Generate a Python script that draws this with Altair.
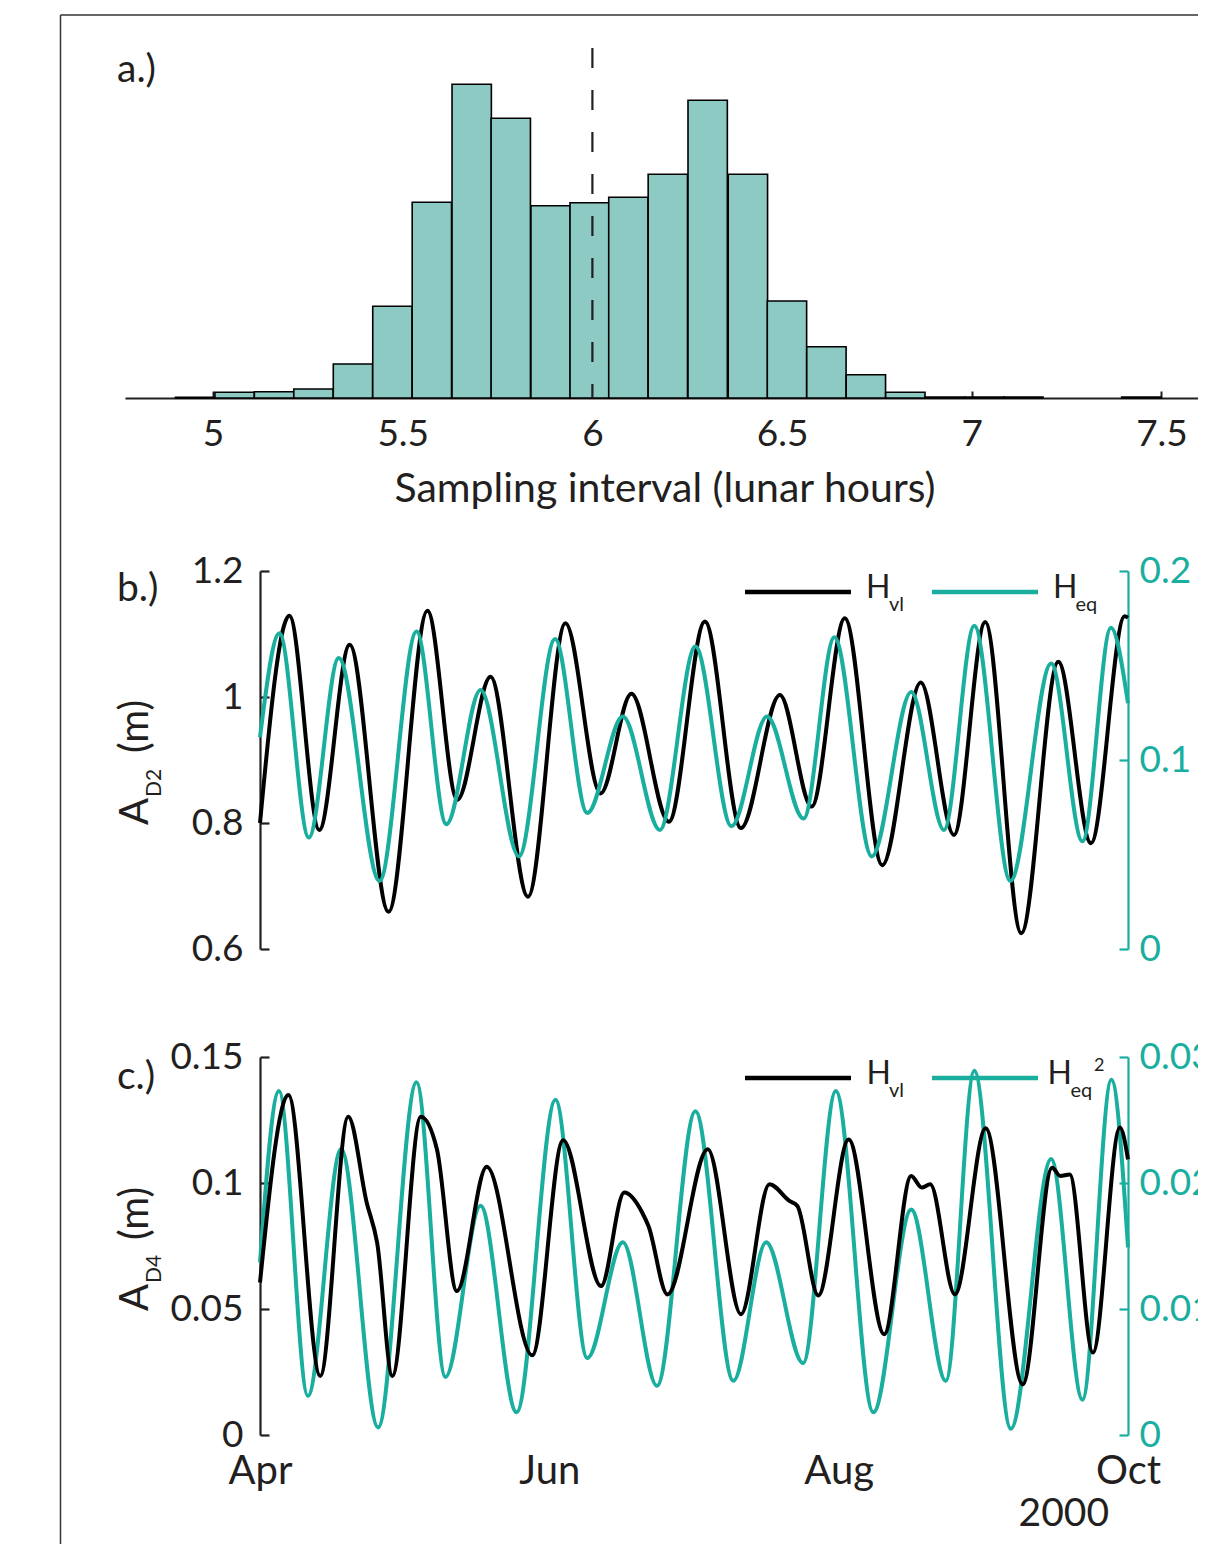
import altair as alt
import pandas as pd

# ---------------- data ----------------
# a.) histogram of sampling interval (lunar hours)
bin_left = [4.901, 5.005, 5.109, 5.213, 5.317, 5.421, 5.525, 5.630, 5.733, 5.838,
            5.941, 6.043, 6.147, 6.252, 6.358, 6.461, 6.565, 6.669, 6.773, 6.877,
            6.981, 7.084, 7.395]
bin_count = [0.8, 5.7, 6.3, 9, 34, 91.7, 195.7, 313.7, 279.7, 192.3,
             195.3, 200.7, 223.7, 297.7, 223.7, 97, 51.3, 23.3, 5.7, 1,
             1, 1, 1]
BIN_W = 0.1037
hist_ticks = [5, 5.5, 6, 6.5, 7, 7.5]
median_interval = [6.0]

# b.) A_D2 (m): days after 1 Apr 2000
b_black_day = [0, 6.2, 12.5, 18.9, 27.1, 35.3, 41.6, 48.6, 56.5, 64.4, 71.8, 78.3, 86.2,
               93.8, 101.4, 109.6, 116.3, 123.3, 131.2, 139.3, 146.3, 152.9, 160.5,
               168.3, 175.2, 182.3, 183]
b_black_val = [0.80, 1.129, 0.789, 1.083, 0.659, 1.137, 0.837, 1.032, 0.683, 1.117, 0.847,
               1.005, 0.802, 1.120, 0.792, 1.003, 0.826, 1.125, 0.733, 1.023, 0.781,
               1.119, 0.625, 1.056, 0.768, 1.128, 1.126]
b_teal_day = [0, 4.1, 10.3, 16.6, 25.2, 33.0, 39.3, 46.5, 54.6, 62.2, 69.0, 76.5, 84.3,
              91.8, 99.4, 106.9, 114.6, 121.1, 129.0, 137.3, 144.2, 150.6, 158.2, 166.8,
              173.4, 179.4, 183]
b_teal_val = [0.112, 0.167, 0.059, 0.154, 0.036, 0.168, 0.066, 0.137, 0.049, 0.164, 0.072,
              0.123, 0.063, 0.160, 0.065, 0.123, 0.069, 0.165, 0.049, 0.136, 0.063, 0.171,
              0.036, 0.151, 0.057, 0.170, 0.130]
b_left_ticks = [0.6, 0.8, 1, 1.2]
b_right_ticks = [0, 0.1, 0.2]

# c.) A_D4 (m)
c_black_day = [0, 6.0, 12.7, 18.6, 22.5, 24.7, 27.9, 33.9, 37.3, 41.5, 47.8, 57.4, 63.9,
               71.9, 76.8, 80.6, 81.9, 85.9, 94.4, 101.4, 107.4, 111.6, 113.3, 117.7,
               124.1, 131.6, 137.3, 139.5, 141.3, 146.5, 153.0, 160.8, 167.0, 168.7,
               170.7, 175.6, 181.3, 183]
c_black_val = [0.0605, 0.1349, 0.0234, 0.1263, 0.0922, 0.0763, 0.0234, 0.1263, 0.1134,
               0.0571, 0.1064, 0.0316, 0.117, 0.0591, 0.0962, 0.0882, 0.0829, 0.0558,
               0.1134, 0.0479, 0.0995, 0.0929, 0.0909, 0.0554, 0.1173, 0.040, 0.1028,
               0.0982, 0.0995, 0.0558, 0.1217, 0.0201, 0.1061, 0.1028, 0.1034, 0.0327,
               0.122, 0.1094]
c_teal_day = [0, 4.0, 10.1, 17.1, 24.9, 33.0, 39.1, 46.5, 54.1, 62.3, 69.0, 76.5, 83.7,
              91.8, 99.8, 106.7, 114.5, 121.4, 129.3, 137.3, 144.6, 150.6, 158.3, 166.8,
              173.4, 179.5, 183]
c_teal_val = [0.0137, 0.0273, 0.0031, 0.0227, 0.0006, 0.0280, 0.0046, 0.0182, 0.0018,
              0.0266, 0.0061, 0.0153, 0.0039, 0.0257, 0.0043, 0.0153, 0.0057, 0.0273,
              0.0018, 0.0179, 0.0043, 0.0289, 0.0005, 0.0219, 0.0028, 0.0282, 0.0149]
c_left_ticks = [0, 0.05, 0.1, 0.15]
c_right_ticks = [0, 0.01, 0.02, 0.03]

month_ticks = [(2000, 4), (2000, 6), (2000, 8), (2000, 10)]

# ---------------- layout / style ----------------
W, H = 1190, 1536
TEAL = "#1AAE9F"
HFILL = "#8CCAC3"
INK = "#231F20"
FONT = "Lato"
TICKF = 37
NUMFMT = ".3~g"


def P(v):
    """page pixel -> view pixel (page has an 8px margin)"""
    return v - 8


one = pd.DataFrame({"k": [0]})
T0 = pd.Timestamp("2000-04-01")


def tdf(days, vals):
    return pd.DataFrame({
        "t": [(T0 + pd.Timedelta(days=d)).strftime("%Y-%m-%dT%H:%M:%S") for d in days],
        "v": vals,
    })


def txt(s, x, y, size, color=INK, angle=0, align="left", baseline="alphabetic"):
    return alt.Chart(one).mark_text(
        text=s, font=FONT, fontSize=size, color=color, angle=angle,
        align=align, baseline=baseline,
    ).encode(x=alt.value(P(x)), y=alt.value(P(y)))


def rule(x1, y1, x2, y2, color, width, dash=None):
    kw = dict(color=color, strokeWidth=width)
    if dash:
        kw["strokeDash"] = dash
    return alt.Chart(one).mark_rule(**kw).encode(
        x=alt.value(P(x1)), y=alt.value(P(y1)), x2=alt.value(P(x2)), y2=alt.value(P(y2)))


layers = []

# frame
layers.append(rule(60.5, 15, 60.5, 1560, "#333333", 1.5))
layers.append(rule(60.5, 15, 1210, 15, "#333333", 1.5))

# ---- panel a ----
xh = dict(domain=[4.768, 7.62], range=[P(125), P(1207)], nice=False, zero=False)
yh = alt.Scale(domain=[0, 300], range=[P(398), P(98)], nice=False, zero=False)
hist_df = pd.DataFrame({"lo": bin_left, "hi": [b + BIN_W for b in bin_left],
                        "n": bin_count, "zero": [0] * len(bin_left)})
layers.append(
    alt.Chart(hist_df).mark_rect(fill=HFILL, stroke="black", strokeWidth=1.6).encode(
        x=alt.X("lo:Q", scale=alt.Scale(**xh), axis=alt.Axis(
            orient="bottom", offset=P(398) - H, values=hist_ticks, format=NUMFMT,
            labelFontSize=TICKF, labelPadding=47, labelBaseline="alphabetic",
            labelColor=INK, labelFlush=False, labelOverlap=False,
            ticks=False, tickSize=0, domainColor=INK, domainWidth=2.2,
            title=None, grid=False)),
        x2="hi:Q",
        y=alt.Y("n:Q", scale=yh, axis=None),
        y2="zero:Q",
    )
)
# inward tick marks on the histogram axis
layers.append(
    alt.Chart(pd.DataFrame({"v": hist_ticks})).mark_point(opacity=0).encode(
        x=alt.X("v:Q", scale=alt.Scale(**xh), axis=alt.Axis(
            orient="top", offset=-P(398), values=hist_ticks, labels=False,
            domain=False, ticks=True, tickSize=7, tickColor=INK, tickWidth=2,
            title=None, grid=False)),
    )
)
layers.append(
    alt.Chart(pd.DataFrame({"v": median_interval})).mark_rule(
        stroke=INK, strokeWidth=2.2, strokeDash=[20, 22]).encode(
        x=alt.X("v:Q", scale=alt.Scale(**xh), axis=None),
        y=alt.value(P(48)), y2=alt.value(P(398)))
)
layers.append(txt("a.)", 117, 82, 39))
layers.append(txt("Sampling interval (lunar hours)", 665, 502, 41, align="center"))

# ---- panels b / c ----
xt = dict(domain=[alt.DateTime(year=2000, month=4, date=1),
                  alt.DateTime(year=2000, month=10, date=1)],
          range=[P(260), P(1128)])


def line(days, vals, color, ydom, ytop, ybot, axis):
    return alt.Chart(tdf(days, vals)).mark_line(
        color=color, strokeWidth=4, interpolate="monotone").encode(
        x=alt.X("t:T", scale=alt.Scale(**xt), axis=axis.get("x")),
        y=alt.Y("v:Q", scale=alt.Scale(domain=ydom, range=[P(ybot), P(ytop)],
                                       nice=False, zero=False), axis=axis.get("y")),
    )


def yaxis_main(values, side, color, xpos):
    if side == "left":
        return alt.Axis(orient="left", offset=-P(xpos), values=values, format=NUMFMT,
                        labelFontSize=TICKF, labelPadding=17, labelColor=color,
                        ticks=False, tickSize=0, domainColor=color, domainWidth=2.2,
                        labelOverlap=False, title=None, grid=False)
    return alt.Axis(orient="right", offset=P(xpos) - W, values=values, format=NUMFMT,
                    labelFontSize=TICKF, labelPadding=11, labelColor=color,
                    ticks=False, tickSize=0, domainColor=color, domainWidth=2.2,
                    labelOverlap=False, title=None, grid=False)


def inward_ticks(values, side, color, xpos, ydom, ytop, ybot):
    if side == "left":   # ticks pointing right from a left axis
        ax = alt.Axis(orient="right", offset=P(xpos) - W, values=values, labels=False,
                      domain=False, tickSize=9, tickWidth=2.2, tickColor=color,
                      title=None, grid=False)
    else:
        ax = alt.Axis(orient="left", offset=-P(xpos), values=values, labels=False,
                      domain=False, tickSize=9, tickWidth=2.2, tickColor=color,
                      title=None, grid=False)
    return alt.Chart(pd.DataFrame({"v": values})).mark_point(opacity=0).encode(
        y=alt.Y("v:Q", scale=alt.Scale(domain=ydom, range=[P(ybot), P(ytop)],
                                       nice=False, zero=False), axis=ax))


time_axis = alt.Axis(
    orient="bottom", offset=P(1435) - H,
    values=[alt.DateTime(year=y, month=m, date=1) for y, m in month_ticks],
    format="%b", labelFontSize=40, labelPadding=48, labelBaseline="alphabetic",
    labelColor=INK, labelFlush=False, labelOverlap=False,
    domain=False, ticks=False, tickSize=0, title=None, grid=False)

# panel b
B_TOP, B_BOT = 571, 949
layers.append(line(b_black_day, b_black_val, "black", [0.6, 1.2], B_TOP, B_BOT,
                   {"x": None, "y": yaxis_main(b_left_ticks, "left", INK, 260)}))
layers.append(line(b_teal_day, b_teal_val, TEAL, [0, 0.2], B_TOP, B_BOT,
                   {"x": None, "y": yaxis_main(b_right_ticks, "right", TEAL, 1128)}))
layers.append(inward_ticks(b_left_ticks, "left", INK, 260, [0.6, 1.2], B_TOP, B_BOT))
layers.append(inward_ticks(b_right_ticks, "right", TEAL, 1128, [0, 0.2], B_TOP, B_BOT))
layers.append(txt("b.)", 117, 601, 39))
layers.append(txt("A", 148, 825, 40, angle=270))
layers.append(txt("D2", 161, 797, 21, angle=270))
layers.append(txt("(m)", 148, 753, 40, angle=270))
# legend b
layers.append(rule(745, 592, 851, 592, "black", 4.5))
layers.append(txt("H", 866, 598, 32))
layers.append(txt("vl", 889, 611, 20))
layers.append(rule(932, 592, 1038, 592, TEAL, 4.5))
layers.append(txt("H", 1053, 598, 32))
layers.append(txt("eq", 1075.5, 611, 20))

# panel c
C_TOP, C_BOT = 1057, 1435
layers.append(line(c_teal_day, c_teal_val, TEAL, [0, 0.03], C_TOP, C_BOT,
                   {"x": None, "y": yaxis_main(c_right_ticks, "right", TEAL, 1128)}))
layers.append(line(c_black_day, c_black_val, "black", [0, 0.15], C_TOP, C_BOT,
                   {"x": time_axis, "y": yaxis_main(c_left_ticks, "left", INK, 260)}))
layers.append(inward_ticks(c_left_ticks, "left", INK, 260, [0, 0.15], C_TOP, C_BOT))
layers.append(inward_ticks(c_right_ticks, "right", TEAL, 1128, [0, 0.03], C_TOP, C_BOT))
layers.append(txt("c.)", 117, 1089, 39))
layers.append(txt("A", 148, 1311, 40, angle=270))
layers.append(txt("D4", 161, 1283, 21, angle=270))
layers.append(txt("(m)", 148, 1240, 40, angle=270))
layers.append(txt("2000", 1109, 1526, 39, align="right"))
# legend c
layers.append(rule(745, 1078, 851, 1078, "black", 4.5))
layers.append(txt("H", 866.5, 1084, 32))
layers.append(txt("vl", 889, 1097, 20))
layers.append(rule(932, 1078, 1038, 1078, TEAL, 4.5))
layers.append(txt("H", 1047.5, 1084, 32))
layers.append(txt("eq", 1070.5, 1097, 20))
layers.append(txt("2", 1094, 1071, 18))

chart = (
    alt.layer(*layers)
    .resolve_scale(x="independent", y="independent")
    .properties(width=W, height=H, padding=0,
                autosize=alt.AutoSizeParams(type="none"))
    .configure_view(stroke=None)
    .configure_axis(grid=False, labelFont=FONT, titleFont=FONT)
)

chart.save("out.html", embed_options={"renderer": "svg", "actions": False})
